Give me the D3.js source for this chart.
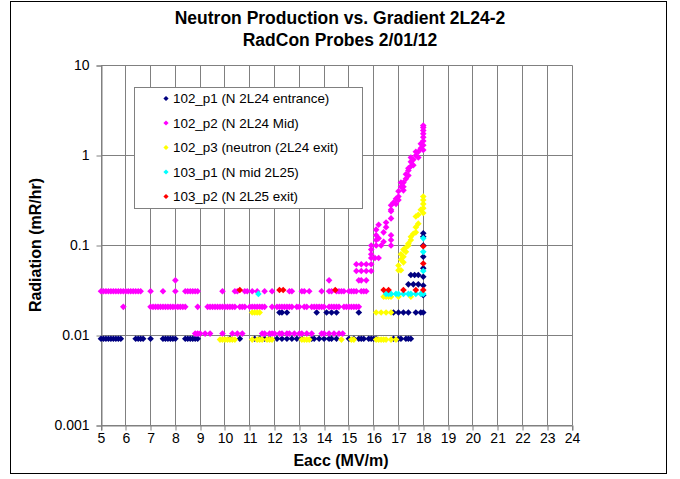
<!DOCTYPE html>
<html>
<head>
<meta charset="utf-8">
<script src="https://cdn.jsdelivr.net/npm/d3@7"></script>
<style>
  html, body { margin: 0; padding: 0; background: #fff; }
  svg { display: block; font-family: Arial, "Liberation Sans", sans-serif; }
</style>
</head>
<body>
<svg id="chart" width="680" height="479"></svg>
<script>
// Chart titles and axis labels
const titleLines = ["Neutron Production vs. Gradient 2L24-2", "RadCon Probes 2/01/12"];
const xTitle = "Eacc (MV/m)";
const yTitle = "Radiation (mR/hr)";

// Tick values and their labels
const xTickValues = [5, 6, 7, 8, 9, 10, 11, 12, 13, 14, 15, 16, 17, 18, 19, 20, 21, 22, 23, 24];
const yTickValues = [0.001, 0.01, 0.1, 1, 10];
const yTickLabels = ["0.001", "0.01", "0.1", "1", "10"];

// Probe names and marker colours
const seriesNames = [
  "102_p1 (N 2L24 entrance)",
  "102_p2 (N 2L24 Mid)",
  "102_p3 (neutron (2L24 exit)",
  "103_p1 (N mid 2L25)",
  "103_p2 (N 2L25 exit)"
];
const seriesColors = ["#000080", "#FF00FF", "#FFFF00", "#00FFFF", "#FF0000"];

// Readings as [Eacc (MV/m), dose rate (mR/hr)]
const probe102p1 = [
  [5.0,0.0092],[5.1,0.0092],[5.2,0.0092],[5.3,0.0092],[5.4,0.0092],[5.5,0.0092],[5.6,0.0092],[5.7,0.0092],[5.8,0.0092],
  [6.4,0.0092],[6.5,0.0092],[6.6,0.0092],[6.7,0.0092],[7.0,0.0092],
  [7.5,0.0092],[7.6,0.0092],[7.7,0.0092],[7.8,0.0092],[7.9,0.0092],[8.0,0.0092],
  [8.4,0.0092],[8.5,0.0092],[8.6,0.0092],[8.7,0.0092],[8.8,0.0092],[8.9,0.0092],
  [10.2,0.0092],[10.6,0.0092],[11.2,0.0092],[11.4,0.0092],[11.6,0.0092],[11.8,0.0092],
  [12.1,0.0092],[12.3,0.0092],[12.5,0.0092],[12.7,0.0092],[12.9,0.0092],[13.1,0.0092],
  [13.5,0.0092],[13.6,0.0092],[13.8,0.0092],[14.0,0.0092],[14.2,0.0092],[14.3,0.0092],[14.5,0.0092],
  [15.0,0.0092],[15.2,0.0092],[15.4,0.0092],[15.5,0.0092],[15.6,0.0092],[15.8,0.0092],[15.9,0.0092],[16.0,0.0092],[16.1,0.0092],
  [16.8,0.0092],[17.0,0.0092],[17.1,0.0092],[17.3,0.0092],[17.4,0.0092],[17.5,0.0092],
  [12.2,0.018],[12.3,0.018],[12.5,0.018],[13.7,0.018],[14.1,0.018],[14.3,0.018],[14.5,0.018],[15.4,0.018],
  [16.8,0.018],[17.0,0.018],[17.2,0.018],[17.4,0.018],[17.7,0.018],[17.9,0.018],
  [17.4,0.037],[17.6,0.037],[17.8,0.037],[17.5,0.047],[17.65,0.047],[17.8,0.047],
  [18.0,0.018],[18.0,0.028],[18.0,0.036],[18.0,0.045],[18.0,0.056],[18.0,0.075],[18.0,0.1],[18.0,0.125],[18.0,0.137]
];

const probe102p2 = [
  [5.0,0.031],[5.1,0.031],[5.2,0.031],[5.3,0.031],[5.4,0.031],[5.5,0.031],[5.6,0.031],[5.7,0.031],[5.8,0.031],
  [5.9,0.031],[6.0,0.031],[6.1,0.031],[6.2,0.031],[6.3,0.031],[6.4,0.031],[6.5,0.031],[6.6,0.031],
  [7.0,0.031],[7.5,0.031],[8.0,0.031],[8.4,0.031],[8.5,0.031],[8.6,0.031],[8.7,0.031],[8.8,0.031],[8.9,0.031],
  [9.9,0.031],[10.4,0.031],[10.5,0.031],[10.8,0.031],[10.9,0.031],[11.1,0.031],[11.3,0.031],[11.6,0.031],[11.9,0.031],
  [12.6,0.031],[12.7,0.031],[13.1,0.031],[13.2,0.031],[13.4,0.031],[13.9,0.031],
  [14.2,0.031],[14.3,0.031],[14.5,0.031],[14.6,0.031],[14.7,0.031],[14.8,0.031],[15.0,0.031],[15.1,0.031],
  [15.2,0.031],[15.3,0.031],[15.5,0.031],[15.6,0.031],[15.7,0.031],
  [8.0,0.041],[14.2,0.041],[15.4,0.041],[15.5,0.041],[15.7,0.041],
  [5.9,0.0208],[7.0,0.0208],[7.1,0.0208],[7.2,0.0208],[7.3,0.0208],[7.4,0.0208],[7.5,0.0208],[7.6,0.0208],[7.7,0.0208],
  [7.8,0.0208],[7.9,0.0208],[8.0,0.0208],[8.1,0.0208],[8.2,0.0208],[8.3,0.0208],[8.4,0.0208],[8.9,0.0208],
  [9.3,0.0208],[9.4,0.0208],[9.5,0.0208],[9.6,0.0208],[9.7,0.0208],[9.8,0.0208],[9.9,0.0208],[10.0,0.0208],
  [10.1,0.0208],[10.2,0.0208],[10.3,0.0208],[10.4,0.0208],[10.6,0.0208],[10.7,0.0208],[10.8,0.0208],
  [11.0,0.0208],[11.1,0.0208],[11.2,0.0208],[11.3,0.0208],[11.4,0.0208],[11.5,0.0208],[11.6,0.0208],[11.9,0.0208],
  [12.1,0.0208],[12.2,0.0208],[12.3,0.0208],[12.4,0.0208],[12.5,0.0208],[12.6,0.0208],[12.7,0.0208],
  [12.9,0.0208],[13.0,0.0208],[13.2,0.0208],[13.3,0.0208],[13.5,0.0208],[13.6,0.0208],[13.7,0.0208],
  [13.8,0.0208],[13.9,0.0208],[14.0,0.0208],[14.2,0.0208],[14.3,0.0208],[14.4,0.0208],[14.5,0.0208],[14.6,0.0208],
  [14.8,0.0208],[14.9,0.0208],[15.0,0.0208],[15.1,0.0208],[15.2,0.0208],[15.3,0.0208],[15.4,0.0208],
  [8.8,0.0105],[8.9,0.0105],[9.0,0.0105],[9.2,0.0105],[9.4,0.0105],[9.9,0.0105],[10.3,0.0105],[10.5,0.0105],[10.7,0.0105],
  [11.5,0.0105],[11.6,0.0105],[11.8,0.0105],[11.9,0.0105],[12.0,0.0105],[12.2,0.0105],[12.3,0.0105],[12.5,0.0105],
  [12.6,0.0105],[12.8,0.0105],[13.0,0.0105],[13.1,0.0105],[13.3,0.0105],[13.5,0.0105],[13.9,0.0105],[14.0,0.0105],
  [14.2,0.0105],[14.4,0.0105],[14.6,0.0105],[14.75,0.0105],
  [15.3,0.052],[15.5,0.052],[15.7,0.052],[15.9,0.052],[15.3,0.062],[15.5,0.062],[15.7,0.062],[15.9,0.062],
  [15.9,0.0727],[16.05,0.0727],[16.2,0.0727],[15.9,0.08],[15.9,0.09],[15.9,0.1],
  [16.1,0.1],[16.1,0.115],[16.1,0.13],[16.1,0.15],[16.2,0.17],[16.2,0.12],[16.3,0.1],[16.4,0.11],[16.4,0.14],
  [16.5,0.16],[16.5,0.18],[16.7,0.1],[16.7,0.115],[16.7,0.13],[16.7,0.2],[16.7,0.24],
  [16.7,0.25],[16.7,0.28],[16.8,0.3],[16.9,0.33],[16.9,0.29],
  [17.0,0.32],[17.0,0.35],[17.0,0.4],[17.1,0.45],[17.1,0.5],
  [17.2,0.41],[17.2,0.45],[17.2,0.5],[17.3,0.55],[17.3,0.62],
  [17.4,0.6],[17.4,0.68],[17.4,0.72],[17.5,0.76],[17.5,0.85],[17.5,0.95],
  [17.6,0.78],[17.6,0.9],[17.7,1.0],[17.7,1.1],
  [17.8,0.95],[17.8,1.1],[17.9,1.2],[17.9,1.35],
  [18.0,1.15],[18.0,1.3],[18.0,1.45],[18.0,1.6],[18.0,1.75],[18.0,1.9],[18.0,2.05],[18.0,2.15]
];

const probe102p3 = [
  [9.8,0.009],[9.9,0.009],[10.0,0.009],[10.1,0.009],[10.2,0.009],[10.3,0.009],[10.4,0.009],
  [11.1,0.009],[11.3,0.009],[11.4,0.009],[11.5,0.009],[11.7,0.009],[11.8,0.009],[11.9,0.009],
  [13.1,0.009],[13.2,0.009],[13.3,0.009],[13.4,0.009],[14.7,0.009],[15.1,0.009],[15.2,0.009],
  [16.1,0.009],[16.2,0.009],[16.3,0.009],[16.4,0.009],[16.5,0.009],[16.7,0.009],[16.9,0.009],
  [11.1,0.018],[11.2,0.018],[11.3,0.018],[11.4,0.018],[16.1,0.018],[16.3,0.018],[16.5,0.018],[16.7,0.018],
  [16.4,0.027],[16.5,0.027],[16.6,0.027],[16.7,0.027],[17.0,0.027],[17.5,0.027],
  [17.0,0.053],[17.1,0.053],[17.0,0.06],[17.1,0.07],[17.1,0.08],[17.2,0.065],[17.2,0.075],[17.2,0.09],
  [17.3,0.085],[17.3,0.095],[17.4,0.1],[17.4,0.105],[17.5,0.115],[17.5,0.125],[17.6,0.135],
  [17.7,0.14],[17.7,0.16],[17.8,0.175],[17.7,0.21],[17.8,0.22],[17.9,0.25],
  [18.0,0.23],[18.0,0.26],[18.0,0.29],[18.0,0.32],[18.0,0.35]
];

const probe103p1 = [
  [11.35,0.029],[16.5,0.029],[16.6,0.029],[16.7,0.029],[16.9,0.029],[17.0,0.029],[17.2,0.029],
  [17.4,0.029],[17.5,0.029],[17.7,0.029],[17.9,0.029],[18.0,0.029],
  [18.0,0.052],[18.0,0.085],[18.0,0.12]
];

const probe103p2 = [
  [10.6,0.032],[12.2,0.032],[12.35,0.032],[14.45,0.032],[16.4,0.032],[16.6,0.032],
  [17.2,0.032],[17.7,0.032],[18.0,0.032],[18.0,0.063],[18.0,0.098]
];

const allSeries = [probe102p1, probe102p2, probe102p3, probe103p1, probe103p2];

const svg = d3.select("#chart");
const plot = { left: 101, right: 572, top: 65.5, bottom: 425.5 };
const gridColor = "#808080";

// Outer chart frame
svg.append("rect")
  .attr("x", 10.5).attr("y", 1.5)
  .attr("width", 656).attr("height", 472)
  .attr("fill", "#fff").attr("stroke", "#000").attr("stroke-width", 1);

const x = d3.scaleLinear().domain([5, 24]).range([plot.left, plot.right]);
const y = d3.scaleLog().domain([0.001, 10]).range([plot.bottom, plot.top]);
const crisp = v => Math.round(v - 0.5) + 0.5;

// Gridlines
const grid = svg.append("g");
grid.selectAll("line.v").data(xTickValues).join("line")
  .attr("x1", d => crisp(x(d))).attr("x2", d => crisp(x(d)))
  .attr("y1", plot.top).attr("y2", plot.bottom)
  .attr("stroke", gridColor).attr("stroke-width", 1);
grid.selectAll("line.h").data(yTickValues).join("line")
  .attr("x1", plot.left).attr("x2", crisp(x(24)))
  .attr("y1", d => crisp(y(d))).attr("y2", d => crisp(y(d)))
  .attr("stroke", gridColor).attr("stroke-width", 1);

// Axes
const xAxis = svg.append("g")
  .attr("transform", `translate(0,${crisp(y(0.001))})`)
  .call(d3.axisBottom(x).tickValues(xTickValues).tickSize(5).tickPadding(3).tickFormat(d3.format("d")));
const yAxis = svg.append("g")
  .attr("transform", `translate(${crisp(x(5))},0)`)
  .call(d3.axisLeft(y).tickValues(yTickValues).tickSize(5).tickPadding(7)
    .tickFormat((d, i) => yTickLabels[i]));
[xAxis, yAxis].forEach(g => {
  g.select(".domain").attr("stroke", gridColor);
  g.selectAll(".tick line").attr("stroke", gridColor);
  g.selectAll(".tick text").attr("fill", "#000").style("font-size", "14px")
    .style("font-family", "Arial, 'Liberation Sans', sans-serif");
});
xAxis.selectAll(".tick line").attr("transform", d => `translate(${crisp(x(d)) - x(d)},0)`);
yAxis.selectAll(".tick line").attr("transform", d => `translate(0,${crisp(y(d)) - y(d)})`);

// Diamond marker
const diamond = r => `M0,${-r}L${r},0L0,${r}L${-r},0Z`;

// Data points, series drawn in legend order
allSeries.forEach((series, i) => {
  svg.append("g").selectAll("path").data(series).join("path")
    .attr("d", diamond(3.3))
    .attr("transform", d => `translate(${x(d[0])},${y(d[1])})`)
    .attr("fill", seriesColors[i]);
});

// Titles
svg.append("g").selectAll("text").data(titleLines).join("text")
  .attr("x", 340).attr("y", (d, i) => 24 + i * 22)
  .attr("text-anchor", "middle")
  .style("font-size", "17.5px").style("font-weight", "bold")
  .text(d => d);

svg.append("text")
  .attr("x", 341).attr("y", 466)
  .attr("text-anchor", "middle")
  .style("font-size", "16px").style("font-weight", "bold")
  .text(xTitle);

svg.append("text")
  .attr("transform", "translate(41,245) rotate(-90)")
  .attr("text-anchor", "middle")
  .style("font-size", "16px").style("font-weight", "bold")
  .text(yTitle);

// Legend
const legend = svg.append("g");
legend.append("rect")
  .attr("x", 134.5).attr("y", 87.5).attr("width", 228).attr("height", 121)
  .attr("fill", "#fff").attr("stroke", gridColor);
const rows = legend.selectAll("g.row").data(seriesNames).join("g")
  .attr("transform", (d, i) => `translate(0,${98.5 + i * 24.5})`);
rows.append("path")
  .attr("d", diamond(2.6))
  .attr("transform", "translate(166,0)")
  .attr("fill", (d, i) => seriesColors[i]);
rows.append("text")
  .attr("x", 173).attr("y", 0).attr("dy", "0.35em")
  .style("font-size", "13.4px")
  .text(d => d);
</script>
</body>
</html>
